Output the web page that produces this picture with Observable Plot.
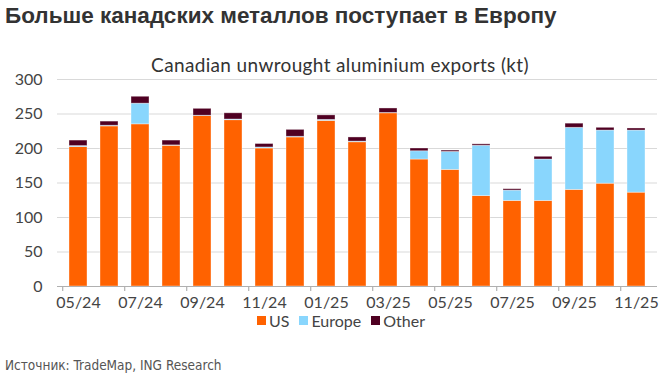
<!DOCTYPE html>
<html><head><meta charset="utf-8">
<script src="https://cdn.jsdelivr.net/npm/d3@7"></script>
<script src="https://cdn.jsdelivr.net/npm/@observablehq/plot@0.6"></script>
<style>
body{margin:0;width:672px;height:382px;position:relative;background:#fff;overflow:hidden}
#title{position:absolute;left:5px;top:3px;font:bold 22.5px "Liberation Sans",Arial,sans-serif;color:#333;white-space:nowrap}
#sub{position:absolute;left:0;width:680px;text-align:center;top:53px;font:19px Lato,sans-serif;letter-spacing:0.35px;color:#333;white-space:nowrap}
#chart{position:absolute;left:0;top:40px}
#legend{position:absolute;left:0;width:682px;top:311px;display:flex;justify-content:center;gap:10px;font:16px Lato,sans-serif;color:#444}
#legend span{display:flex;align-items:center;gap:3px}
#legend i{display:inline-block;width:9px;height:9px}
#source{position:absolute;left:5px;top:357px;font:13.5px "Liberation Sans Narrow","DejaVu Sans Condensed",sans-serif;color:#555;white-space:nowrap}
</style></head>
<body>
<div id="title">Больше канадских металлов поступает в Европу</div>
<div id="sub">Canadian unwrought aluminium exports (kt)</div>
<div id="chart"></div>
<div id="legend"></div>
<div id="source">Источник: TradeMap, ING Research</div>
<script>
const months = ["05/24","06/24","07/24","08/24","09/24","10/24","11/24","12/24","01/25","02/25","03/25","04/25","05/25","06/25","07/25","08/25","09/25","10/25","11/25"];
const us     = [202,232,235,204,247,241,200,216,240,209,251,184,169,131,124,124,140,149,136];
const europe = [1.5,1,30,0.5,0.5,1,1.5,1,1.5,1,0.5,12,26,73,15,60,90,77,90];
const other  = [8,6,10,7,10,9,5,10,6.5,6,6.5,4,2,2,2,4,6,4,3];
const series = ["US","Europe","Other"];
const colors = ["#FF6200","#89D6FD","#4F0022"];
const yTicks = [0,50,100,150,200,250,300];

const rows = [];
months.forEach((m,i)=>{
  rows.push({month:m, series:"US", value:us[i]});
  rows.push({month:m, series:"Europe", value:europe[i]});
  rows.push({month:m, series:"Other", value:other[i]});
});

const W = 672, mL = 57, mR = 15;
const step = (W - mL - mR) / months.length;

const chart = Plot.plot({
  width: W, height: 280,
  marginLeft: mL, marginRight: mR, marginTop: 39, marginBottom: 34,
  style: {fontFamily: "Lato, sans-serif", color: "#444", background: "transparent"},
  x: {domain: months, paddingInner: 0.43, paddingOuter: 0.215, label: null},
  y: {domain: [0,300], ticks: yTicks, label: null},
  color: {domain: series, range: colors},
  marks: [
    Plot.gridY(yTicks.filter(d=>d>0), {stroke:"#d9d9d9", strokeOpacity:1}),
    Plot.axisY({ticks: yTicks, tickSize: 0, tickPadding: 15, fontSize: 16, label: null}),
    Plot.axisX({tickSize: 0, tickPadding: 10, fontSize: 16, label: null,
      tickFormat: (d) => months.indexOf(d) % 2 === 0 ? d : ""}),
    Plot.barY(rows, {x:"month", y:"value", fill:"series", order: series, stroke:"#fff", strokeOpacity:0.45, strokeWidth:0.8}),
    Plot.ruleY([0], {stroke:"#b0b0b0", strokeWidth:1.2}),
    Plot.ruleX(months.filter((d,i)=>i%2===0), {x:d=>d, dx:-step/2, y1:0, y2:0, insetBottom:-5, stroke:"#b0b0b0", strokeWidth:1.2})
  ]
});
document.getElementById("chart").appendChild(chart);

const leg = document.getElementById("legend");
series.forEach((s,i)=>{
  const sp = document.createElement("span");
  sp.innerHTML = `<i style="background:${colors[i]}"></i>${s}`;
  leg.appendChild(sp);
});
</script>
</body></html>
